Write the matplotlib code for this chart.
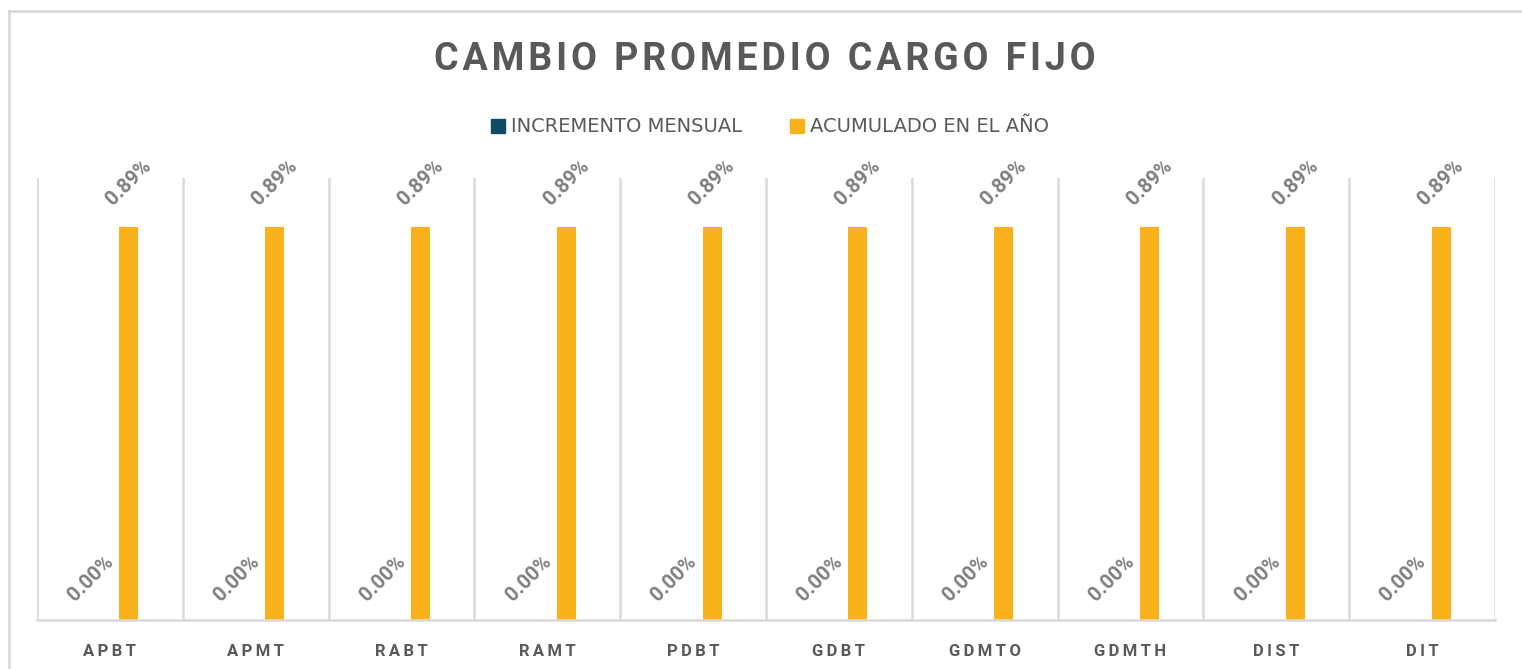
import numpy as np
import matplotlib.pyplot as plt
from matplotlib.lines import Line2D
from matplotlib.patches import Patch

fuente = ['Roboto', 'DejaVu Sans']

categorias = ['APBT', 'APMT', 'RABT', 'RAMT', 'PDBT', 'GDBT', 'GDMTO', 'GDMTH', 'DIST', 'DIT']
incremento_mensual = [0.00, 0.00, 0.00, 0.00, 0.00, 0.00, 0.00, 0.00, 0.00, 0.00]
acumulado_anio = [0.89, 0.89, 0.89, 0.89, 0.89, 0.89, 0.89, 0.89, 0.89, 0.89]

azul = '#0E4D64'
naranja = '#F9B21B'
gris_txt = '#595959'
gris_lbl = '#7F7F7F'
gris_lin = '#D9D9D9'

fig = plt.figure(figsize=(15.22, 6.69), dpi=100)
ax = fig.add_axes([37/1522, 1 - 620/669, (1495-37)/1522, (620-178)/669])

x = np.arange(len(categorias))
w = 0.13
ax.bar(x - w, incremento_mensual, width=w, color=azul)
ax.bar(x + w, acumulado_anio, width=w, color=naranja)

for xi, v in zip(x, incremento_mensual):
    ax.annotate(f'{v:.2f}%', (xi - w, v), xytext=(0, 30), textcoords='offset points',
                rotation=45, ha='center', va='center', fontsize=14.5, family=fuente,
                fontweight='bold', color=gris_lbl)
for xi, v in zip(x, acumulado_anio):
    ax.annotate(f'{v:.2f}%', (xi + w, v), xytext=(0, 32), textcoords='offset points',
                rotation=45, ha='center', va='center', fontsize=14.5, family=fuente,
                fontweight='bold', color=gris_lbl, annotation_clip=False)

ax.set_xlim(-0.5, len(categorias) - 0.5)
ax.set_ylim(0, 1.0)
ax.set_yticks([])
ax.set_xticks(x)
ax.set_xticklabels(['\u2009'.join(c) for c in categorias], fontsize=12, family=fuente,
                   fontweight='bold', color=gris_txt)
ax.tick_params(axis='x', length=0, pad=17)
for b in np.arange(-0.5, len(categorias), 1.0):
    ax.axvline(b, color=gris_lin, lw=1.8, zorder=0)
for s in ['top', 'right', 'left']:
    ax.spines[s].set_visible(False)
ax.spines['bottom'].set_color(gris_lin)
ax.spines['bottom'].set_linewidth(1.8)

# titulo y leyenda
fig.text(765/1522, 1 - 59/669, '\u200a'.join('CAMBIO PROMEDIO CARGO FIJO'),
         ha='center', va='center', fontsize=27, family=fuente,
         fontweight='bold', color=gris_txt)
handles = [Patch(color=azul), Patch(color=naranja)]
fig.legend(handles, ['INCREMENTO MENSUAL', 'ACUMULADO EN EL AÑO'], loc='center',
           bbox_to_anchor=(770/1522, 1 - 127/669), ncol=2, frameon=False,
           fontsize=14, labelcolor=gris_txt, handlelength=0.7, handleheight=0.7,
           handletextpad=0.3, columnspacing=2.5)

# borde del grafico
fig.add_artist(Line2D([9/1522, 1], [1 - 11/669, 1 - 11/669], color=gris_lin, lw=2))
fig.add_artist(Line2D([9/1522, 9/1522], [0, 1 - 11/669], color=gris_lin, lw=2))

fig.savefig('out.png', dpi=100)
